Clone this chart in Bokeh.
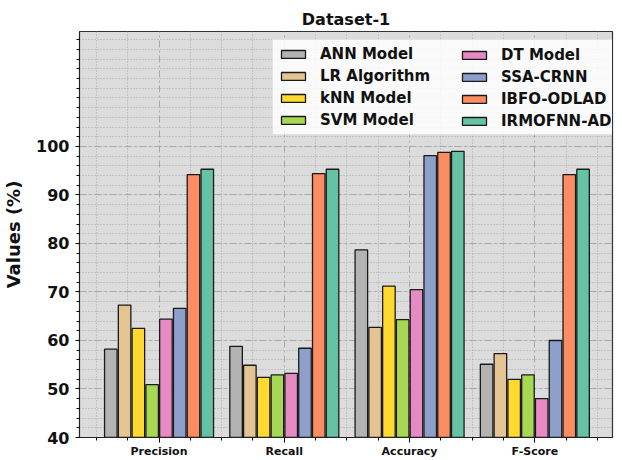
from bokeh.plotting import figure
from bokeh.models import FixedTicker, Range1d, Legend, LegendItem
from bokeh.embed import file_html
from bokeh.resources import INLINE

categories = ["Precision", "Recall", "Accuracy", "F-Score"]
models = ["ANN Model", "LR Algorithm", "kNN Model", "SVM Model",
          "DT Model", "SSA-CRNN", "IBFO-ODLAD", "IRMOFNN-AD"]
colors = ["#b3b3b3", "#e5c494", "#ffd92f", "#a6d854",
          "#e78ac3", "#8da0cb", "#fc8d62", "#66c2a5"]

ann_model = [58.2, 58.8, 78.7, 55.1]
lr_algorithm = [67.3, 54.9, 62.7, 57.3]
knn_model = [62.5, 52.4, 71.2, 52.0]
svm_model = [50.9, 52.9, 64.3, 52.9]
dt_model = [64.4, 53.2, 70.5, 48.0]
ssa_crnn = [66.6, 58.4, 98.1, 60.0]
ibfo_odlad = [94.2, 94.4, 98.8, 94.2]
irmofnn_ad = [95.3, 95.3, 99.0, 95.3]
series = [ann_model, lr_algorithm, knn_model, svm_model,
          dt_model, ssa_crnn, ibfo_odlad, irmofnn_ad]

y_ticks = [40, 50, 60, 70, 80, 90, 100]

FONT = "DejaVu Sans"
H = 460
TOP = 31

p = figure(width=614, height=H, output_backend="svg", toolbar_location=None,
           x_range=Range1d(-0.635, 3.62), y_range=Range1d(40, 123.7),
           min_border_left=74, min_border_right=2, min_border_bottom=0,
           min_border_top=TOP)

p.title.text = "Dataset-1"
p.title.align = "center"
p.title.text_font = FONT
p.title.text_font_size = "16px"
p.title.text_font_style = "bold"
p.title.text_color = "#111111"
p.title.standoff = 5

p.background_fill_color = "#dcdcdc"
p.border_fill_color = "white"
p.outline_line_color = "#333333"
p.outline_line_width = 1.2

width = 0.1
pitch = 0.11
items = []
for i, (name, vals, col) in enumerate(zip(models, series, colors)):
    xs = [j + (i - 3.5) * pitch for j in range(len(categories))]
    r = p.vbar(x=xs, top=vals, bottom=40, width=width, fill_color=col,
               line_color="#1a1a1a", line_width=1.3)
    items.append(LegendItem(label=name, renderers=[r]))

# axes
p.xaxis.ticker = FixedTicker(ticks=[0, 1, 2, 3],
                             minor_ticks=[-0.5, -0.25, 0.25, 0.5, 0.75, 1.25, 1.5, 1.75,
                                          2.25, 2.5, 2.75, 3.25, 3.5])
p.xaxis.major_label_overrides = {i: c for i, c in enumerate(categories)}
p.xaxis.major_label_text_font = FONT
p.xaxis.major_label_text_font_size = "11px"
p.xaxis.major_label_text_font_style = "bold"
p.xaxis.major_label_text_color = "#111111"
p.xaxis.major_label_standoff = 2
p.xaxis.major_tick_out = 5
p.xaxis.major_tick_in = 0
p.xaxis.minor_tick_out = 3
p.xaxis.minor_tick_in = 0
p.xaxis.axis_line_color = "#222222"

p.yaxis.ticker = FixedTicker(ticks=y_ticks, minor_ticks=list(range(40, 124, 2)))
p.yaxis.major_label_text_font = FONT
p.yaxis.major_label_text_font_size = "16px"
p.yaxis.major_label_text_font_style = "bold"
p.yaxis.major_label_text_color = "#111111"
p.yaxis.major_label_standoff = 6
p.yaxis.major_tick_out = 4
p.yaxis.major_tick_in = 0
p.yaxis.minor_tick_out = 3
p.yaxis.minor_tick_in = 0
p.yaxis.axis_line_color = "#222222"
p.yaxis.axis_label = "Values (%)"
p.yaxis.axis_label_text_font = FONT
p.yaxis.axis_label_text_font_size = "18px"
p.yaxis.axis_label_text_font_style = "bold"
p.yaxis.axis_label_text_color = "#111111"
p.yaxis.axis_label_standoff = 9

# grids
for g in (p.xgrid, p.ygrid):
    g.grid_line_color = "#a8a8a8"
    g.grid_line_dash = "7 3 2 3"
    g.grid_line_width = 1
    g.minor_grid_line_color = "#a8a8a8"
    g.minor_grid_line_dash = "1 2"
    g.minor_grid_line_width = 1


def make_legend(its, loc, lw, boxed):
    lg = Legend(items=its, location=loc)
    lg.label_text_font = FONT
    lg.label_text_font_size = "15px"
    lg.label_text_font_style = "bold"
    lg.label_text_color = "#111111"
    lg.glyph_width = 30
    lg.glyph_height = 10
    lg.label_standoff = 12
    lg.label_width = lw
    lg.label_height = 18
    lg.spacing = 4
    lg.padding = 5
    lg.margin = 0
    if boxed:
        lg.background_fill_color = "white"
        lg.background_fill_alpha = 0.85
        lg.border_line_color = "#cccccc"
    else:
        lg.background_fill_alpha = 0
        lg.border_line_alpha = 0
    return lg


leg_y = 302
legend1 = make_legend(items[:4], (193, leg_y), 297, True)
legend2 = make_legend(items[4:], (375, leg_y), 20, False)
p.add_layout(legend1, "center")
p.add_layout(legend2, "center")

open("out.html", "w").write(file_html(p, INLINE))
